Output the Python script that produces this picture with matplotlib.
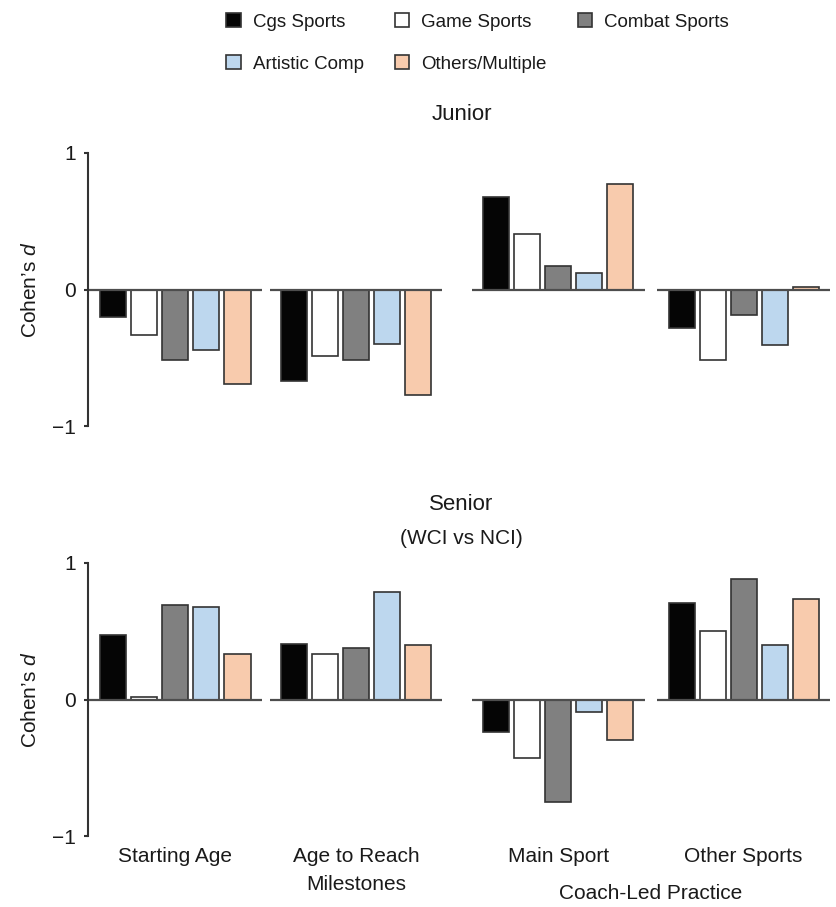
import numpy as np
import matplotlib
matplotlib.use('Agg')
import matplotlib.pyplot as plt
from matplotlib.patches import Patch

plt.rcParams['font.family'] = ['Liberation Sans', 'DejaVu Sans']
plt.rcParams['mathtext.fontset'] = 'custom'
plt.rcParams['mathtext.it'] = 'Liberation Sans:italic'
plt.rcParams['axes.unicode_minus'] = True

# datos
grupos = ['Cgs Sports', 'Game Sports', 'Combat Sports', 'Artistic Comp', 'Others/Multiple']
colores = ['#050505', '#ffffff', '#808080', '#bdd7ee', '#f8cbad']
categorias = ['Starting Age', 'Age to Reach\nMilestones', 'Main Sport', 'Other Sports']

junior = np.array([
    [-0.20, -0.33, -0.52, -0.44, -0.69],   # Starting Age
    [-0.67, -0.49, -0.52, -0.40, -0.77],   # Age to Reach Milestones
    [0.68, 0.41, 0.17, 0.12, 0.77],        # Main Sport
    [-0.28, -0.52, -0.19, -0.41, 0.02],    # Other Sports
])
senior = np.array([
    [0.47, 0.015, 0.69, 0.68, 0.33],
    [0.41, 0.33, 0.375, 0.79, 0.40],
    [-0.24, -0.43, -0.75, -0.09, -0.30],
    [0.71, 0.50, 0.88, 0.40, 0.735],
])

# posiciones (1 unidad = 31 px)
centros = np.array([0, 5.82, 12.35, 18.32])
paso = 1.0
ancho = 0.84
medio = 2.78

W, H = 836, 907
txt = '#1a1a1a'
fig = plt.figure(figsize=(W / 100, H / 100), dpi=100)

def panel(y_top, y_bot, datos):
    # y_top / y_bot en px para los valores 1 y -1
    u = (y_bot - y_top) / 2
    top = y_top - 0.05 * u
    bot = y_bot + 0.05 * u
    ax = fig.add_axes([88 / W, 1 - bot / H, 748 / W, (bot - top) / H])
    for g in range(len(centros)):
        for i in range(len(grupos)):
            ax.bar(centros[g] + (i - 2) * paso, datos[g, i], width=ancho,
                   color=colores[i], edgecolor='#333333', linewidth=1.2, zorder=2)
        ax.hlines(0, centros[g] - medio, centros[g] + medio, color='#4d4d4d',
                  linewidth=1.6, zorder=3)
    ax.set_xlim(-2.82, 21.3)
    ax.set_ylim(-1.05, 1.05)
    for s in ['top', 'right', 'bottom']:
        ax.spines[s].set_visible(False)
    ax.spines['left'].set_bounds(-1, 1)
    ax.spines['left'].set_linewidth(1.5)
    ax.spines['left'].set_color('#333333')
    ax.set_xticks([])
    ax.set_yticks([-1, 0, 1])
    ax.set_yticklabels(['\u22121', '0', '1'])
    ax.tick_params(axis='y', length=3, width=1.5, color='#333333', pad=6,
                   labelsize=15, labelcolor=txt)
    ax.text((31 - 88) / 748, 0.5, 'Cohen\u2019s $d$', transform=ax.transAxes,
            rotation=90, ha='center', va='center', fontsize=15, color=txt)
    return ax

ax1 = panel(153, 426, junior)
ax2 = panel(563, 836, senior)

# titulos
fig.text(462 / W, 1 - 114 / H, 'Junior', ha='center', va='center', fontsize=16, color=txt)
fig.text(461 / W, 1 - 504 / H, 'Senior', ha='center', va='center', fontsize=16, color=txt)
fig.text(461 / W, 1 - 538 / H, '(WCI vs NCI)', ha='center', va='center', fontsize=15, color=txt)

# etiquetas de categorias
def ydat(px):
    return (699 - px) / 136.5

for g, cat in enumerate(categorias):
    lineas = cat.split('\n')
    for k, l in enumerate(lineas):
        ax2.text(centros[g], ydat(856 + 28 * k), l, ha='center', va='center',
                 fontsize=15, color=txt, clip_on=False)
ax2.text((centros[2] + centros[3]) / 2, ydat(893), 'Coach-Led Practice', ha='center',
         va='center', fontsize=15, color=txt, clip_on=False)

# leyenda
orden = [0, 3, 1, 4, 2]
handles = [Patch(facecolor=colores[i], edgecolor='#333333', linewidth=1.2, label=grupos[i]) for i in orden]
fig.legend(handles=handles, ncol=3, loc='upper left', bbox_to_anchor=(226 / W, 1 - 13 / H),
           frameon=False, fontsize=13.5, handlelength=0.78, handleheight=0.78,
           handletextpad=0.64, columnspacing=1.65, labelspacing=1.3,
           borderpad=0, borderaxespad=0, labelcolor=txt)

fig.savefig('out.png', dpi=100)
